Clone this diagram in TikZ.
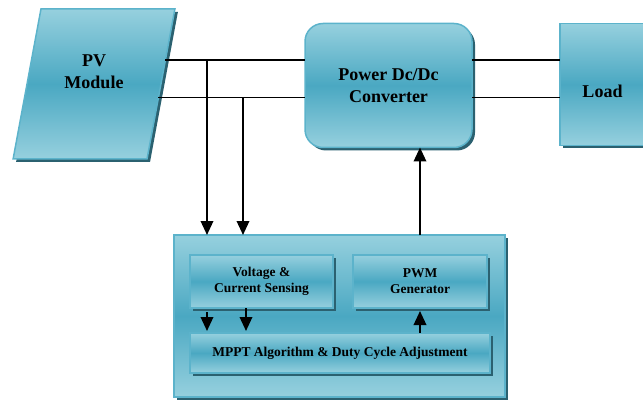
\documentclass[tikz,border=0pt]{standalone}
\usepackage{fontspec}
\setmainfont{Liberation Serif}
\usetikzlibrary{shapes.geometric,shadows,arrows.meta,calc}

\definecolor{edgec}{HTML}{96D0DE}
\definecolor{midc}{HTML}{4AA8C2}
\definecolor{borderc}{HTML}{5CB3CB}
\definecolor{shadowc}{HTML}{2B6170}

\tikzset{
    block/.style={draw=borderc, line width=1.5pt, top color=edgec, bottom color=edgec,
        middle color=midc, inner sep=0pt, outer sep=0pt, align=center,
        drop shadow={shadow xshift=3pt, shadow yshift=-3pt, fill=shadowc, opacity=1}},
    bigtext/.style={font=\bfseries\fontsize{18}{22}\selectfont},
    smalltext/.style={font=\bfseries\fontsize{13.5}{16}\selectfont},
    wire/.style={line width=1.6pt},
    arr/.style={line width=1.9pt, -{Triangle[length=14pt,width=12.5pt]}}
}

\begin{document}
\begin{tikzpicture}[x=1pt,y=-1pt]
    \useasboundingbox (0,0) rectangle (643,401);
    \clip (0,0) rectangle (643,401);

    % Blocks
    \node[block, bigtext, trapezium, trapezium left angle=75, trapezium right angle=105,
        trapezium stretches=true, inner sep=2pt, minimum width=162pt, minimum height=150pt,
        text depth=24pt] (pv) at (94,84) {PV\\Module};
    \node[block, bigtext, rounded corners=18pt, minimum width=167pt, minimum height=124pt] (conv) at (388.5,85.5) {Power Dc/Dc\\Converter};
    \node[block, bigtext, minimum width=85pt, minimum height=122pt, text height=27pt] (load) at (602.5,84.5) {Load};

    % Controller
    \node[block, minimum width=331pt, minimum height=162pt] (ctrl) at (339.5,316) {};
    \node[block, smalltext, minimum width=143pt, minimum height=53pt] (sense) at (261.5,281.5) {Voltage \&\\Current Sensing};
    \node[block, smalltext, minimum width=134pt, minimum height=53pt] (pwm) at (420,281.5) {PWM\\Generator};
    \node[block, smalltext, minimum width=300pt, minimum height=40pt] (mppt) at (340,353) {MPPT Algorithm \& Duty Cycle Adjustment};

    % Power lines
    \coordinate (pva) at ($(pv.top right corner)!0.34!(pv.bottom right corner)$);
    \coordinate (pvb) at ($(pv.top right corner)!0.59!(pv.bottom right corner)$);
    \draw[wire] (pva) -- (pva -| conv.west);
    \draw[wire] (pvb) -- (pvb -| conv.west);
    \draw[wire] (pva -| conv.east) -- (pva -| load.west);
    \draw[wire] (pvb -| conv.east) -- (pvb -| load.west);

    % Sensing taps
    \coordinate (tapv) at (207,60);
    \coordinate (tapi) at (243,98);
    \draw[arr] (tapv) -- (tapv |- ctrl.north);
    \draw[arr] (tapi) -- (tapi |- ctrl.north);
    \draw[arr] (pwm.north |- ctrl.north) -- (pwm.north |- conv.south);

    % Inner arrows
    \coordinate (ina) at (207,0);
    \coordinate (inb) at (246,0);
    \draw[arr] ($(sense.south -| ina)+(0,4)$) -- ($(mppt.north -| ina)+(0,-2)$);
    \draw[arr] (sense.south -| inb) -- ($(mppt.north -| inb)+(0,-2)$);
    \draw[arr] (mppt.north -| pwm) -- ($(pwm.south)+(0,3)$);
\end{tikzpicture}
\end{document}
